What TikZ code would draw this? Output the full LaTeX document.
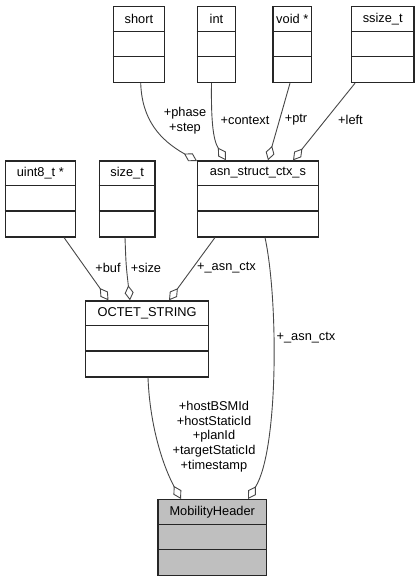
\documentclass[tikz,border=0pt]{standalone}
\usepackage{fontspec}
\setmainfont{Liberation Sans}
\usetikzlibrary{arrows.meta,calc}

% class box: name, left, top, right, title, fill colour
% (y grows downwards, so offsets below the top edge are positive)
\newcommand{\classbox}[6]{%
  \node[classframe, fill=#6, minimum width={#4-#2}, anchor=north west] (#1) at (#2,#3) {};
  \node[classtitle] (#1-title) at ($(#1.north)+(0,12.7)$) {#5};
  \draw[classframe] ($(#1.north west)+(0,25.3)$) -- ($(#1.north east)+(0,25.3)$);
  \draw[classframe] ($(#1.north west)+(0,50.7)$) -- ($(#1.north east)+(0,50.7)$);
}

\begin{document}
\begin{tikzpicture}[x=1pt,y=-1pt,
  classframe/.style={draw=black!85, line width=1.2pt, inner sep=0pt, minimum height=76pt},
  classtitle/.style={inner sep=0pt, font=\fontsize{12.8}{14.7}\selectfont},
  member/.style={draw=black!72, line width=0.9pt,
    -{Diamond[open, fill=white, length=15pt, width=9pt, line width=0.9pt]}},
  lbl/.style={inner sep=0pt, align=center, font=\fontsize{12.8}{14.7}\selectfont}]
\useasboundingbox (0,0) rectangle (419,581);

\classbox{short}{112.7}{6}{164}{short}{white}
\classbox{int}{196.7}{6}{235}{int}{white}
\classbox{voidp}{272.3}{6}{311}{void *}{white}
\classbox{ssize}{351}{6}{413.3}{ssize\_t}{white}
\classbox{uint}{4.7}{160.3}{74.7}{uint8\_t *}{white}
\classbox{size}{98.7}{160.3}{154.3}{size\_t}{white}
\classbox{asn}{196.7}{160.3}{318}{asn\_struct\_ctx\_s}{white}
\classbox{octet}{85}{300.3}{208}{OCTET\_STRING}{white}
\classbox{mob}{157.3}{499}{266}{MobilityHeader}{black!25}

% members of asn_struct_ctx_s
\coordinate (e1) at (197,161);
\draw[member] (short.south west -| 140.7,0) .. controls (142,120) and (160,140) .. (e1);
\coordinate (e2) at (226,160.3);
\draw[member] (int.south west -| 211.5,0) .. controls (211,120) and (213,140) .. (e2);
\coordinate (e3) at (268,160.3);
\draw[member] (voidp.south west -| 290,0) -- (e3);
\coordinate (e4) at (293,160.3);
\draw[member] (ssize.south west -| 355,0) -- (e4);

% members of OCTET_STRING
\coordinate (e5) at (108.5,300.3);
\draw[member] (uint.south west -| 64,0) -- (e5);
\coordinate (e6) at (130,300.3);
\draw[member] (size.south west -| 125,0) .. controls (126,265) .. (e6);
\coordinate (e7) at (169,300.3);
\draw[member] (asn.south west -| 215,0) -- (e7);

% members of MobilityHeader
\coordinate (e8) at (181,499);
\draw[member] (octet.south west -| 148,0) .. controls (150,430) and (165,470) .. (e8);
\coordinate (e9) at (248,499);
\draw[member] (asn.south west -| 265,0) .. controls (278.5,300) and (278.5,450) .. (e9);

% edge labels
\node[lbl] (l1) at (185,120.5) {+phase\\+step};
\node[lbl] (l2) at (245,120) {+context};
\node[lbl] (l3) at (296,120) {+ptr};
\node[lbl] (l4) at (350.5,120) {+left};
\node[lbl] (l5) at (108,268) {+buf};
\node[lbl] (l6) at (146,268) {+size};
\node[lbl] (l7) at (226.5,268) {+\_asn\_ctx};
\node[lbl] (l8) at (306,338) {+\_asn\_ctx};
\node[lbl] (l9) at (214,436.5) {+hostBSMId\\+hostStaticId\\+planId\\+targetStaticId\\+timestamp};
\end{tikzpicture}
\end{document}
